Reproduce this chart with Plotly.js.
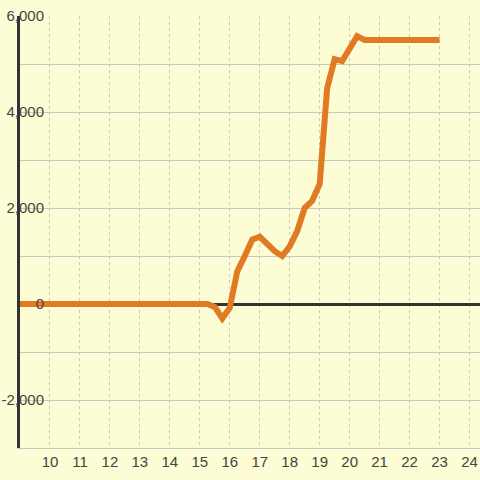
<!DOCTYPE html>
<html>
<head>
<meta charset="utf-8">
<script src="https://cdn.plot.ly/plotly-3.0.1.min.js"></script>
<style>html,body{margin:0;padding:0;background:#fcfcd5;}</style>
</head>
<body>
<div id="chart" style="width:480px;height:480px;"></div>
<script>
// Data (hour of day vs value)
const hours = [9, 10, 11, 12, 13, 14, 15, 15.25, 15.5, 15.75, 16, 16.25, 16.5, 16.75, 17, 17.25, 17.5, 17.75, 18, 18.25, 18.5, 18.75, 19, 19.25, 19.5, 19.75, 20, 20.25, 20.5, 21, 21.5, 22, 22.5, 23];
const values = [0, 0, 0, 0, 0, 0, 0, 0, -60, -300, -80, 680, 1000, 1340, 1400, 1250, 1100, 1000, 1200, 1520, 2000, 2150, 2500, 4500, 5100, 5060, 5320, 5580, 5500, 5500, 5500, 5500, 5500, 5500];
const xTickVals = [10, 11, 12, 13, 14, 15, 16, 17, 18, 19, 20, 21, 22, 23, 24];
const yTickVals = [-2000, 0, 2000, 4000, 6000];
const yTickText = ["-2,000", "0", "2,000", "4,000", "6,000"];

const bg = '#fcfcd5';
const gridColor = '#c9c9c4';
const fontSpec = {family: 'Liberation Sans, Arial, sans-serif', size: 15, color: '#444444'};

const trace = {
  x: hours,
  y: values,
  type: 'scatter',
  mode: 'lines',
  line: {color: '#e07b24', width: 6},
  cliponaxis: false,
  hoverinfo: 'skip'
};

const layout = {
  width: 480,
  height: 480,
  margin: {l: 20, r: 0, t: 16, b: 32},
  paper_bgcolor: bg,
  plot_bgcolor: bg,
  showlegend: false,
  font: fontSpec,
  xaxis: {
    range: [9, 24.35],
    tickvals: xTickVals,
    ticktext: xTickVals.map(String),
    showgrid: true,
    gridcolor: gridColor,
    griddash: 'dot',
    gridwidth: 1,
    zeroline: false,
    showline: true,
    linecolor: gridColor,
    linewidth: 1,
    ticks: '',
    tickfont: fontSpec,
    fixedrange: true
  },
  yaxis: {
    range: [-3000, 6000],
    tickvals: yTickVals,
    ticktext: yTickText,
    showgrid: true,
    gridcolor: gridColor,
    gridwidth: 1,
    minor: {dtick: 1000, showgrid: true, gridcolor: gridColor, gridwidth: 1},
    zeroline: true,
    zerolinecolor: '#333333',
    zerolinewidth: 3,
    showline: true,
    linecolor: '#333333',
    linewidth: 3,
    ticks: '',
    ticklabelstandoff: -30,
    tickfont: fontSpec,
    fixedrange: true
  }
};

Plotly.newPlot('chart', [trace], layout, {displayModeBar: false, staticPlot: true});
</script>
</body>
</html>
